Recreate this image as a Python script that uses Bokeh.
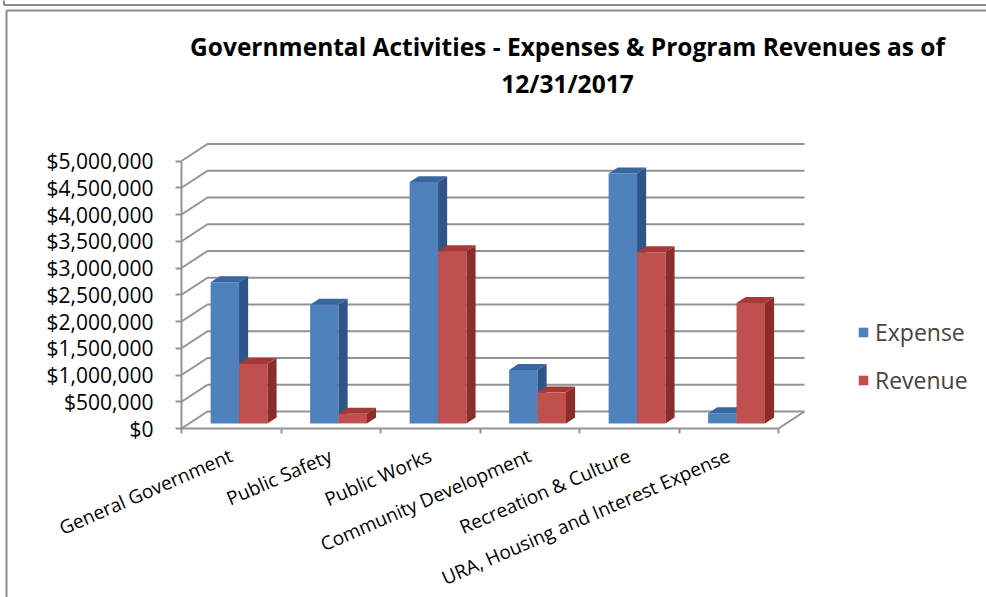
import math

from bokeh.core.properties import value
from bokeh.embed import file_html
from bokeh.models import (ColumnDataSource, FixedTicker, Legend, LegendItem,
                          LinearAxis, NumeralTickFormatter, Range1d)
from bokeh.plotting import figure
from bokeh.resources import INLINE

# ---- data -------------------------------------------------------------------
categories = [
    "General Government",
    "Public Safety",
    "Public Works",
    "Community Development",
    "Recreation & Culture",
    "URA, Housing and Interest Expense",
]
expense = [2640000, 2220000, 4510000, 1000000, 4670000, 190000]
revenue = [1110000, 180000, 3220000, 580000, 3200000, 2250000]
series_names = ["Expense", "Revenue"]
y_ticks = [0, 500000, 1000000, 1500000, 2000000, 2500000,
           3000000, 3500000, 4000000, 4500000, 5000000]
title_lines = ["Governmental Activities - Expenses & Program Revenues as of",
               "12/31/2017"]

# ---- layout constants ---------------------------------------------------------
FONT = "Open Sans"
W, H = 986, 597
ORIGIN_X = 181        # canvas column of the front value axis
ZERO_Y = 428          # canvas row of the $0 line
PX_PER_CAT = 99.5     # horizontal pixels per category slot
PX_PER_UNIT = 53.5e-6 # vertical pixels per dollar


def cx(px):
    """canvas column -> x data coordinate"""
    return (px - ORIGIN_X) / PX_PER_CAT


def cy(py):
    """canvas row -> y data coordinate"""
    return (ZERO_Y - py) / PX_PER_UNIT


# oblique depth of the chart box (back wall offset from the front plane)
DX = 26 / PX_PER_CAT
DY = 17 / PX_PER_UNIT
BAR_F0, BAR_F1 = 0.30, 0.65   # bar front / back as fraction of the depth
GAP = 1.5                     # gap width relative to one bar

face_colors = {
    "Expense": ("#4F81BD", "#2F5588", "#3B67A0"),   # front, side, top
    "Revenue": ("#C0504D", "#8A2D2B", "#A43936"),
}
GRID = "#939393"
BORDER = "#8C8C8C"

n = len(categories)
p = figure(width=W, height=H,
           x_range=Range1d(cx(0), cx(W)), y_range=Range1d(cy(H), cy(0)),
           output_backend="svg", toolbar_location=None,
           x_axis_type=None, y_axis_type=None,
           min_border=0, min_border_left=0, min_border_right=0,
           min_border_top=0, min_border_bottom=0)
p.outline_line_color = None
p.background_fill_color = "white"
p.border_fill_color = "white"

# ---- chart border -------------------------------------------------------------
p.multi_line([[cx(3.5), cx(3.5), cx(W + 5)], [cx(6), cx(6), cx(W + 5)]],
             [[cy(-5), cy(4.5), cy(4.5)], [cy(H + 5), cy(10), cy(10)]],
             line_color=BORDER, line_width=2)

# ---- value axis (drawn on the front edge of the left wall) ------------------
yaxis = LinearAxis(ticker=FixedTicker(ticks=y_ticks),
                   formatter=NumeralTickFormatter(format="$0,0"),
                   bounds=(0, y_ticks[-1]), fixed_location=0)
yaxis.axis_line_color = GRID
yaxis.axis_line_width = 2
yaxis.major_tick_line_color = GRID
yaxis.major_tick_line_width = 2
yaxis.major_tick_in = 0
yaxis.major_tick_out = 6
yaxis.minor_tick_line_color = None
yaxis.major_label_standoff = 22
yaxis.major_label_text_font = FONT
yaxis.major_label_text_font_size = "21px"
yaxis.major_label_text_color = "black"
p.add_layout(yaxis, "left")

# ---- category axis (front edge of the floor) -----------------------------------
centers = [i + 0.5 for i in range(n)]
xaxis = LinearAxis(ticker=FixedTicker(ticks=centers, minor_ticks=list(range(n + 1))),
                   bounds=(0, n), fixed_location=0)
xaxis.major_label_overrides = {c: name for c, name in zip(centers, categories)}
xaxis.major_label_orientation = math.radians(23.5)
xaxis.axis_line_color = GRID
xaxis.axis_line_width = 2
xaxis.major_tick_line_color = None
xaxis.major_tick_in = 0
xaxis.major_tick_out = 0
xaxis.minor_tick_line_color = GRID
xaxis.minor_tick_line_width = 2
xaxis.minor_tick_in = 0
xaxis.minor_tick_out = 5
xaxis.major_label_standoff = 21
xaxis.major_label_text_font = FONT
xaxis.major_label_text_font_size = "19px"
xaxis.major_label_text_color = "black"
p.add_layout(xaxis, "below")

# ---- walls, gridlines and floor ---------------------------------------------
grid_xs = [[0, DX, n + DX] for _ in y_ticks]
grid_ys = [[v, v + DY, v + DY] for v in y_ticks]
p.multi_line(grid_xs, grid_ys, line_color=GRID, line_width=2)

# floor right edge
p.line([n, n + DX], [0, DY], line_color=GRID, line_width=2)

# ---- 3-D columns --------------------------------------------------------------
bar_w = 1 / (len(series_names) + GAP)
xs, ys, fills = [], [], []
front_index = {}
f0x, f0y = BAR_F0 * DX, BAR_F0 * DY
f1x, f1y = BAR_F1 * DX, BAR_F1 * DY
for i in range(n):
    for s, (name, vals) in enumerate(zip(series_names, [expense, revenue])):
        v = vals[i]
        left = i + GAP * bar_w / 2 + s * bar_w
        right = left + bar_w
        front, side, top = face_colors[name]
        # front face
        xs.append([left + f0x, right + f0x, right + f0x, left + f0x])
        ys.append([f0y, f0y, v + f0y, v + f0y])
        fills.append(front)
        front_index.setdefault(name, len(fills) - 1)
        # right side face
        xs.append([right + f0x, right + f1x, right + f1x, right + f0x])
        ys.append([f0y, f1y, v + f1y, v + f0y])
        fills.append(side)
        # top face
        xs.append([left + f0x, right + f0x, right + f1x, left + f1x])
        ys.append([v + f0y, v + f0y, v + f1y, v + f1y])
        fills.append(top)

bars = p.patches("xs", "ys", fill_color="fill", line_color=None,
                 source=ColumnDataSource(dict(xs=xs, ys=ys, fill=fills)))

# ---- title ---------------------------------------------------------------------
p.text(x=[cx(567), cx(567)], y=[cy(46), cy(83)],
       text=title_lines, text_align="center", text_baseline="middle",
       text_font=value(FONT), text_font_style="bold",
       text_font_size="24.5px", text_color="black")

# ---- legend ----------------------------------------------------------------------
legend = Legend(
    items=[LegendItem(label=name, renderers=[bars], index=front_index[name])
           for name in series_names],
    location=(857, H - 396),
    glyph_width=12, glyph_height=12, label_standoff=6,
    label_text_font=FONT, label_text_font_size="23px",
    label_height=26, spacing=16, padding=0, margin=0,
    border_line_color=None, background_fill_alpha=0,
)
p.add_layout(legend)

open("out.html", "w").write(file_html(p, INLINE))
